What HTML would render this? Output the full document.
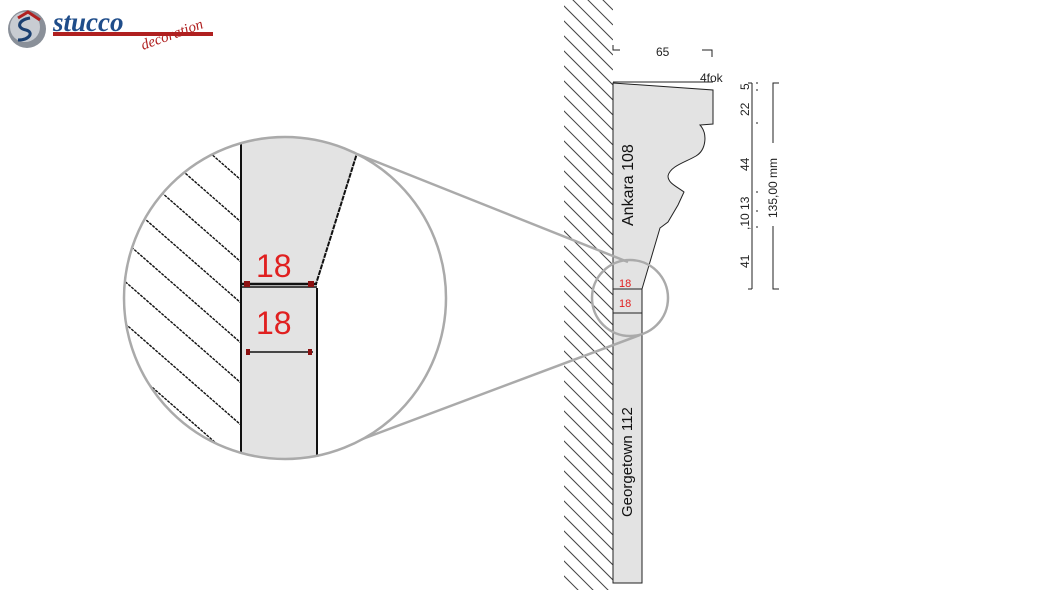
<!DOCTYPE html>
<html><head><meta charset="utf-8"><style>
html,body{margin:0;padding:0;background:#fff;}
svg{display:block;font-family:"Liberation Sans",sans-serif;}
</style></head><body>
<svg width="1063" height="598" viewBox="0 0 1063 598">
<defs>
<clipPath id="wall"><rect x="564" y="0" width="49" height="590"/></clipPath>
<clipPath id="big"><circle cx="285" cy="298" r="161"/></clipPath>
</defs>
<!-- logo -->
<circle cx="27" cy="29" r="19" fill="#8a9099"/>
<circle cx="25" cy="27" r="15" fill="#c8ccd2"/>
<path d="M18 18 L28 12 L40 20" stroke="#b02020" stroke-width="3" fill="none"/>
<path d="M30 18 C18 20,16 28,26 30 C34 32,30 40,18 40" stroke="#1a3f70" stroke-width="3" fill="none"/>
<text x="53" y="31" font-family="Liberation Serif,serif" font-style="italic" font-weight="bold" font-size="27" fill="#1f4d8a">stucco</text>
<rect x="53" y="32" width="160" height="4" fill="#b02020"/>
<text x="143" y="50" font-family="Liberation Serif,serif" font-style="italic" font-size="15" fill="#b02020" transform="rotate(-20 143 50)">decoration</text>
<!-- wall hatch -->
<g clip-path="url(#wall)" stroke="#444" stroke-width="1">
<g id="h">
<line x1="563" y1="-40" x2="613" y2="10"/><line x1="563" y1="-25" x2="613" y2="25"/><line x1="563" y1="-10" x2="613" y2="40"/><line x1="563" y1="5" x2="613" y2="55"/><line x1="563" y1="20" x2="613" y2="70"/><line x1="563" y1="35" x2="613" y2="85"/><line x1="563" y1="50" x2="613" y2="100"/><line x1="563" y1="65" x2="613" y2="115"/><line x1="563" y1="80" x2="613" y2="130"/><line x1="563" y1="95" x2="613" y2="145"/><line x1="563" y1="110" x2="613" y2="160"/><line x1="563" y1="125" x2="613" y2="175"/><line x1="563" y1="140" x2="613" y2="190"/><line x1="563" y1="155" x2="613" y2="205"/>
</g>
<use href="#h" y="210"/><use href="#h" y="420"/>
</g>
<!-- profile -->
<path d="M613 83 L713 90 L713 124 L700 125 C708 134,706 150,696 156 C686 162,670 166,668 176 C668 183,676 186,684 192 L678 205 L668 222 L660 228 L642 289 L613 289 Z" fill="#e3e3e3" stroke="#222" stroke-width="1"/>
<rect x="613" y="289" width="29" height="294" fill="#e3e3e3" stroke="#222" stroke-width="1"/>
<line x1="613" y1="82" x2="713" y2="82" stroke="#222"/>
<line x1="613" y1="313" x2="642" y2="313" stroke="#222"/>
<text x="619" y="287" font-size="11" fill="#e02020">18</text>
<text x="619" y="307" font-size="11" fill="#e02020">18</text>
<text font-size="16" fill="#111" transform="translate(633 226) rotate(-90)">Ankara 108</text>
<text font-size="15" fill="#111" transform="translate(632 517) rotate(-90)">Georgetown 112</text>
<!-- top dims -->
<path d="M613 45 V50 H620" stroke="#222" fill="none"/>
<path d="M702 50 H712 V57" stroke="#222" fill="none"/>
<text x="656" y="56" font-size="12" fill="#222">65</text>
<text x="700" y="82" font-size="12" fill="#222">4fok</text>
<!-- right dims -->
<line x1="752" y1="83" x2="752" y2="289" stroke="#222"/>
<g stroke="#222"><line x1="756" y1="83" x2="758" y2="83"/><line x1="756" y1="90" x2="758" y2="90"/><line x1="756" y1="123" x2="758" y2="123"/><line x1="756" y1="192" x2="758" y2="192"/><line x1="756" y1="211" x2="758" y2="211"/><line x1="756" y1="227" x2="758" y2="227"/><line x1="748" y1="289" x2="752" y2="289"/><line x1="748" y1="83" x2="752" y2="83"/></g>
<g font-size="12" fill="#222">
<text transform="translate(749 90) rotate(-90)">5</text>
<text transform="translate(749 116) rotate(-90)">22</text>
<text transform="translate(749 171) rotate(-90)">44</text>
<text transform="translate(749 230) rotate(-90)">,10 13</text>
<text transform="translate(749 268) rotate(-90)">41</text>
<text transform="translate(777 218) rotate(-90)">135,00 mm</text>
</g>
<path d="M779 83 H773 V143 M773 226 V289 H779" stroke="#222" fill="none"/>
<!-- connectors -->
<line x1="357" y1="154" x2="628" y2="262" stroke="#aaa" stroke-width="2.5"/>
<line x1="317" y1="456" x2="640" y2="335" stroke="#aaa" stroke-width="2.5"/>
<circle cx="630" cy="298" r="38" fill="none" stroke="#aaa" stroke-width="2.5"/>
<!-- big circle -->
<circle cx="285" cy="298" r="161" fill="#fff"/>
<g clip-path="url(#big)">
<path d="M241 120 L368 120 L317 284 L317 470 L241 470 Z" fill="#e3e3e3"/>
<g stroke="#111" stroke-width="1.4" stroke-dasharray="3 1">
<line x1="41" y1="5" x2="241" y2="180"/><line x1="41" y1="47" x2="241" y2="222"/><line x1="41" y1="87" x2="241" y2="262"/><line x1="41" y1="128" x2="241" y2="303"/><line x1="41" y1="168" x2="241" y2="343"/><line x1="41" y1="208" x2="241" y2="383"/><line x1="41" y1="250" x2="241" y2="425"/><line x1="41" y1="290" x2="241" y2="465"/><line x1="41" y1="330" x2="241" y2="505"/>
</g>
<line x1="358" y1="150" x2="316" y2="284" stroke="#111" stroke-width="2" stroke-dasharray="5 1"/>
<line x1="241" y1="120" x2="241" y2="470" stroke="#111" stroke-width="2"/>
<line x1="317" y1="288" x2="317" y2="470" stroke="#111" stroke-width="2"/>
<line x1="241" y1="284" x2="317" y2="284" stroke="#111" stroke-width="2.5"/>
<line x1="241" y1="287" x2="317" y2="287" stroke="#111" stroke-width="1.5"/>
<line x1="246" y1="352" x2="313" y2="352" stroke="#111" stroke-width="1.5"/>
<rect x="244" y="281" width="6" height="6" fill="#8b1010"/><rect x="308" y="281" width="6" height="6" fill="#8b1010"/>
<rect x="246" y="349" width="4" height="6" fill="#8b1010"/><rect x="308" y="349" width="4" height="6" fill="#8b1010"/>
<text x="256" y="277" font-size="32" fill="#e02020">18</text>
<text x="256" y="334" font-size="32" fill="#e02020">18</text>
</g>
<circle cx="285" cy="298" r="161" fill="none" stroke="#aaa" stroke-width="2.5"/>
</svg>
</body></html>
